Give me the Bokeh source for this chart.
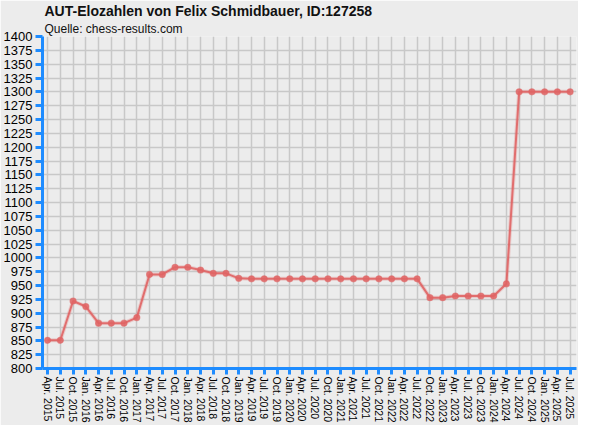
from bokeh.plotting import figure
from bokeh.models import Range1d, FixedTicker, Title, ColumnDataSource
from bokeh.embed import file_html
from bokeh.resources import INLINE
import math

labels = ["Apr. 2015", "Jul. 2015", "Oct. 2015", "Jan. 2016", "Apr. 2016", "Jul. 2016",
          "Oct. 2016", "Jan. 2017", "Apr. 2017", "Jul. 2017", "Oct. 2017", "Jan. 2018",
          "Apr. 2018", "Jul. 2018", "Oct. 2018", "Jan. 2019", "Apr. 2019", "Jul. 2019",
          "Oct. 2019", "Jan. 2020", "Apr. 2020", "Jul. 2020", "Oct. 2020", "Jan. 2021",
          "Apr. 2021", "Jul. 2021", "Oct. 2021", "Jan. 2022", "Apr. 2022", "Jul. 2022",
          "Oct. 2022", "Jan. 2023", "Apr. 2023", "Jul. 2023", "Oct. 2023", "Jan. 2024",
          "Apr. 2024", "Jul. 2024", "Oct. 2024", "Jan. 2025", "Apr. 2025", "Jul. 2025"]
elo = [851, 851, 922, 912, 882, 882, 882, 892, 970, 970, 983, 983,
       978, 972, 972, 963, 962, 962, 962, 962, 962, 962, 962, 962,
       962, 962, 962, 962, 962, 962, 928, 928, 931, 931, 931, 931,
       953, 1300, 1300, 1300, 1300, 1300]
y_ticks = list(range(800, 1401, 25))
title_text = "AUT-Elozahlen von Felix Schmidbauer, ID:127258"
subtitle_text = "Quelle: chess-results.com"

x = list(range(len(labels)))
src = ColumnDataSource(dict(x=x, y=elo))

BG = "#ececec"
BLUE = "#1e8cff"
RED = "#e06464"
FONT = "Liberation Sans"

p = figure(width=578, height=425, output_backend="svg", toolbar_location=None,
           x_range=Range1d(-0.4, len(labels) - 0.5), y_range=Range1d(800, 1400),
           min_border_left=36, min_border_right=2, min_border_top=0, min_border_bottom=0)
p.background_fill_color = BG
p.border_fill_color = BG
p.outline_line_color = None

sub = Title(text=subtitle_text, text_font=FONT, text_font_size="12px",
            text_font_style="normal", text_color="#111111", align="left", standoff=2, offset=2)
p.add_layout(sub, "above")
main = Title(text=title_text, text_font=FONT, text_font_size="14px",
             text_font_style="bold", text_color="#111111", align="left", standoff=0, offset=2)
p.add_layout(main, "above")

p.line("x", "y", source=src, line_color=RED, line_width=4, line_alpha=0.25)
p.line("x", "y", source=src, line_color=RED, line_width=2, line_alpha=0.9)
p.scatter("x", "y", source=src, size=6, fill_color=RED, fill_alpha=0.85,
          line_color=RED, line_alpha=0.6, line_width=1.2)

p.xaxis.ticker = FixedTicker(ticks=x)
p.xaxis.major_label_overrides = {i: l for i, l in enumerate(labels)}
p.xaxis.major_label_orientation = -math.pi / 2
p.yaxis.ticker = FixedTicker(ticks=y_ticks)

for ax in (p.xaxis[0], p.yaxis[0]):
    ax.axis_line_color = BLUE
    ax.axis_line_width = 3
    ax.major_tick_line_color = BLUE
    ax.major_tick_line_width = 3
    ax.major_tick_in = 0
    ax.minor_tick_line_color = None
    ax.major_label_text_font = FONT
    ax.major_label_text_color = "#000000"
p.xaxis.major_tick_out = 6
p.yaxis.major_tick_out = 7
p.xaxis.major_label_text_font_size = "10.5px"
p.yaxis.major_label_text_font_size = "13px"
p.xaxis.major_label_standoff = 2
p.yaxis.major_label_standoff = 3

p.xgrid.grid_line_color = "#c8c8c8"
p.ygrid.grid_line_color = "#c8c8c8"
p.xgrid.grid_line_width = 1.5
p.ygrid.grid_line_width = 1.5

open("out.html", "w").write(file_html(p, INLINE))
